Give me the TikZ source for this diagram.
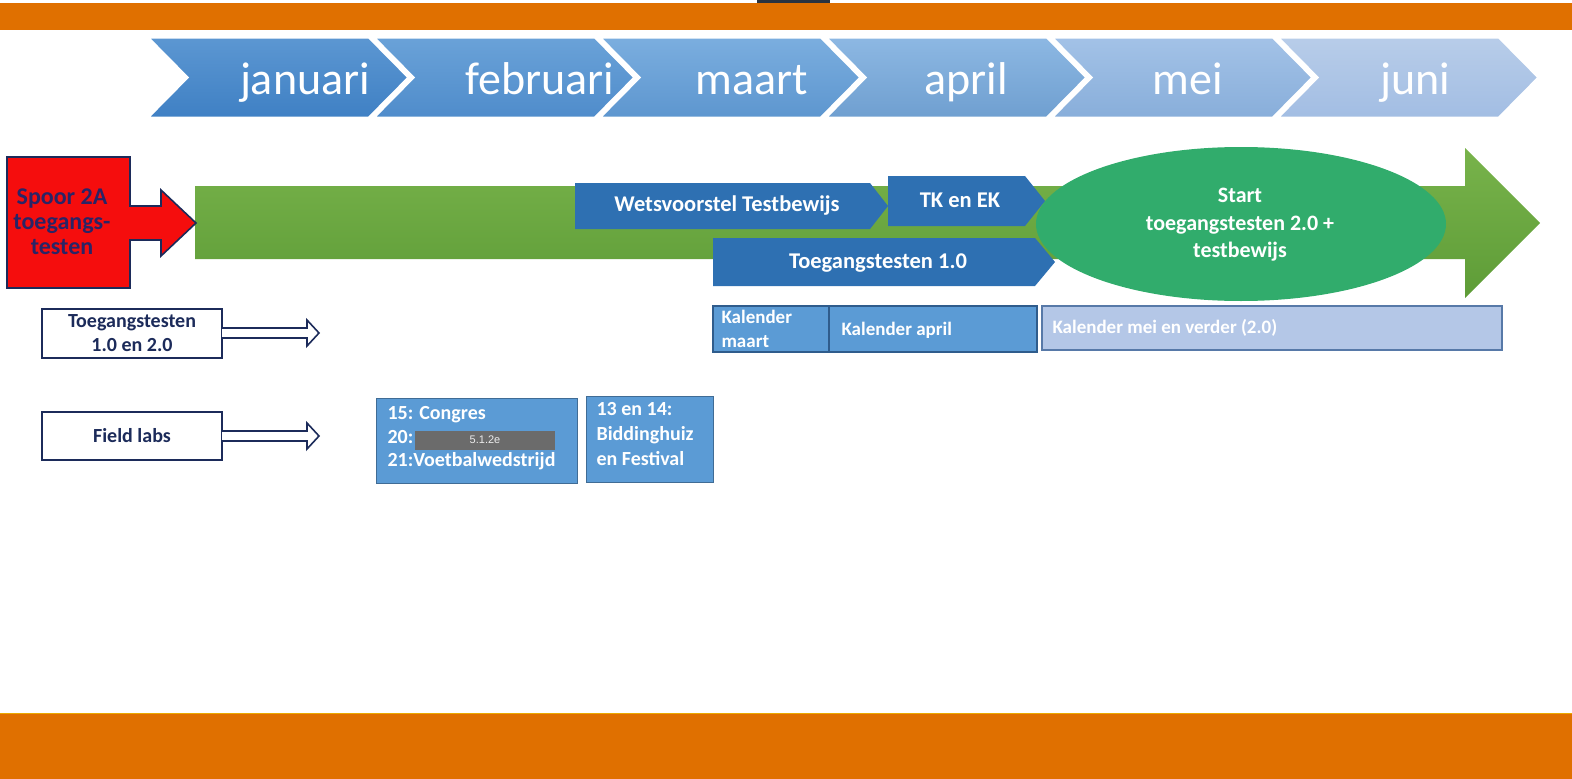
\documentclass[tikz,border=0pt]{standalone}
\usepackage{fontspec}
\setmainfont{Carlito}
\newfontfamily\arialfont{Liberation Sans}
\definecolor{orng}{HTML}{E07000}
\definecolor{darkbox}{HTML}{2A3340}
\definecolor{cA1}{HTML}{5C97D2}\definecolor{cA2}{HTML}{3F80C4}
\definecolor{cB1}{HTML}{6AA2D8}\definecolor{cB2}{HTML}{4F8CCB}
\definecolor{cC1}{HTML}{7BAEDF}\definecolor{cC2}{HTML}{5D96CF}
\definecolor{cD1}{HTML}{8DB8E3}\definecolor{cD2}{HTML}{6F9FD0}
\definecolor{cE1}{HTML}{A3C2E7}\definecolor{cE2}{HTML}{88AEDA}
\definecolor{cF1}{HTML}{B8CDE9}\definecolor{cF2}{HTML}{A2BDE3}
\definecolor{grn1}{HTML}{78B34B}\definecolor{grn2}{HTML}{5E9C37}
\definecolor{bluebox}{HTML}{2E70B2}
\definecolor{ellg}{HTML}{31AC6C}
\definecolor{kal}{HTML}{5B9BD5}\definecolor{kalb}{HTML}{2F5C8C}
\definecolor{kall}{HTML}{B4C7E7}\definecolor{kallb}{HTML}{5779A8}
\definecolor{navy}{HTML}{1C2B5A}
\definecolor{redtxt}{HTML}{2A2466}
\definecolor{redf}{HTML}{F50D0D}
\definecolor{graybar}{HTML}{6B6B6B}
\begin{document}
\begin{tikzpicture}[x=1pt,y=-1pt,
  month/.style={text=white,font=\fontsize{46}{50}\selectfont,anchor=base},
  wlab/.style={text=white,font=\bfseries\fontsize{22.5}{27}\selectfont,align=center},
  klab/.style={text=white,font=\bfseries\fontsize{19}{24}\selectfont,align=left},
  nlab/.style={text=navy,font=\bfseries\fontsize{20}{24}\selectfont,align=center},
  hollow/.style={draw=navy,line width=1.6pt,fill=white,line join=miter}]
\useasboundingbox (0,0) rectangle (1572,779);
% orange bars
\fill[orng] (0,3) rectangle (1572,30);
\fill[darkbox] (757,0) rectangle (830,3);
\fill[orng] (0,713) rectangle (1572,779);
\draw[color=orng!60!yellow,line width=1pt] (0,713) -- (1572,713);
% chevrons
\foreach \i/\lab/\tc/\bc/\cx in {0/januari/cA1/cA2/305,1/februari/cB1/cB2/540,2/maart/cC1/cC2/752,3/april/cD1/cD2/966,4/mei/cE1/cE2/1188,5/juni/cF1/cF2/1415}{
  \pgfmathsetmacro\xa{147+226*\i}
  \path[top color=\tc,bottom color=\bc,draw=white,line width=3pt]
    (\xa,37) -- ++(222,0) -- ++(40,40.5) -- ++(-40,40.5) -- ++(-222,0) -- ++(40,-40.5) -- cycle;
  \node[month] (m\i) at (\cx,94) {\lab};
}
% green arrow
\path[top color=grn1,bottom color=grn2]
  (195,186) -- (1465,186) -- (1465,148) -- (1540,223) -- (1465,298) -- (1465,259) -- (195,259) -- cycle;
% red box arrow
\path[fill=redf,draw=navy,line width=1.6pt,line join=miter]
  (7,157) -- (130,157) -- (130,206) -- (161,206) -- (161,190) -- (196,223) -- (161,256) -- (161,240) -- (130,240) -- (130,288) -- (7,288) -- cycle;
\node[nlab,text=redtxt,font=\bfseries\fontsize{24}{25}\selectfont] (spoor) at (62,222) {Spoor 2A\\toegangs-\\testen};
% blue pentagons
\fill[bluebox] (575,183) -- (870,183) -- (888,206) -- (870,229) -- (575,229) -- cycle;
\node[wlab] (wets) at (727,206) {Wetsvoorstel Testbewijs};
\fill[bluebox] (888,176) -- (1025,176) -- (1045,201) -- (1025,226) -- (888,226) -- cycle;
\node[wlab] (tk) at (960,200) {TK en EK};
\fill[bluebox] (713,238) -- (1035,238) -- (1055,262) -- (1035,286) -- (713,286) -- cycle;
\node[wlab] (t10) at (878,263) {Toegangstesten 1.0};
% ellipse
\fill[ellg] (1241,224) ellipse [x radius=205, y radius=77];
\node[wlab,font=\bfseries\fontsize{22}{27.5}\selectfont] (start) at (1240,225) {Start\\toegangstesten 2.0 +\\testbewijs};
% calendars
\draw[fill=kal,draw=kalb,line width=1.5pt] (713,306) rectangle (829,352);
\node[klab,anchor=west] (kmaart) at (718,329) {Kalender\\maart};
\draw[fill=kal,draw=kalb,line width=1.5pt] (829,306) rectangle (1037,352);
\node[klab,anchor=west] (kapril) at (838,330) {Kalender april};
\draw[fill=kall,draw=kallb,line width=1.5pt] (1042,306) rectangle (1502,350);
\node[klab,anchor=west] (kmei) at (1049,328) {Kalender mei en verder (2.0)};
% legend boxes with hollow arrows
\draw[hollow] (42,309) rectangle (222,358);
\node[nlab] (leg1) at (132,333) {Toegangstesten\\1.0 en 2.0};
\draw[hollow] (222,328) -- (307,328) -- (307,320) -- (319,333) -- (307,346) -- (307,338) -- (222,338);
\draw[hollow] (42,412) rectangle (222,460);
\node[nlab] (leg2) at (132,436) {Field labs};
\draw[hollow] (222,431) -- (307,431) -- (307,423) -- (319,436) -- (307,449) -- (307,441) -- (222,441);
% field lab boxes
\draw[fill=kal,draw=kal!70!black,line width=1pt] (376,398) rectangle (577,483);
\node[klab,anchor=north west,font=\bfseries\fontsize{20}{23.5}\selectfont] (fl1) at (384,403) {15: Congres\\20:\\21:Voetbalwedstrijd};
\fill[graybar] (415,431) rectangle (555,450);
\node[text=white!85!gray,font=\arialfont\fontsize{11}{13}\selectfont] (red) at (485,440) {5.1.2e};
\draw[fill=kal,draw=kal!70!black,line width=1pt] (586,396) rectangle (713,482);
\node[klab,anchor=north west,font=\bfseries\fontsize{20}{25}\selectfont] (fl2) at (593,399) {13 en 14:\\Biddinghuiz\\en Festival};
\end{tikzpicture}
\end{document}
